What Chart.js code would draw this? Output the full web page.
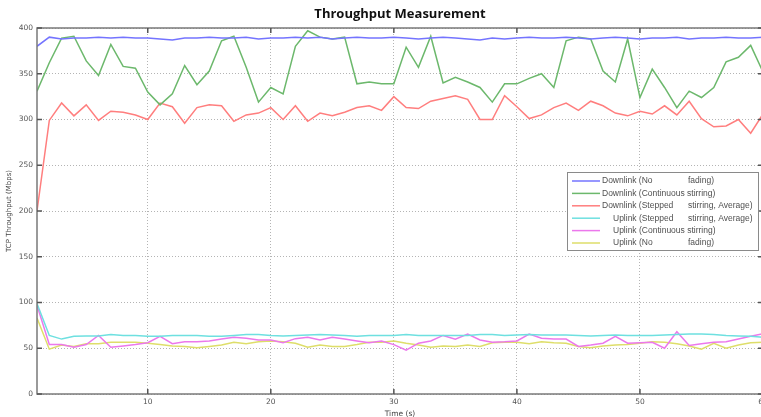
<!DOCTYPE html>
<html>
<head>
<meta charset="utf-8">
<script src="https://cdn.jsdelivr.net/npm/chart.js@4.4.1/dist/chart.umd.min.js"></script>
<style>
	html, body { margin: 0; padding: 0; background: #fff; overflow: hidden; }
	#wrap { width: 800px; height: 417px; }
</style>
</head>
<body>
<div id="wrap"><canvas id="myChart" width="800" height="417"></canvas></div>
<script>

// Data --------------------------------------------

const times = [1, 2, 3, 4, 5, 6, 7, 8, 9, 10, 11, 12, 13, 14, 15, 16, 17, 18, 19, 20,
	21, 22, 23, 24, 25, 26, 27, 28, 29, 30, 31, 32, 33, 34, 35, 36, 37, 38, 39, 40,
	41, 42, 43, 44, 45, 46, 47, 48, 49, 50, 51, 52, 53, 54, 55, 56, 57, 58, 59, 60];

const downNoFading = [380, 390, 388, 389, 389, 390, 389, 390, 389, 389, 388, 387, 389, 389, 390, 389, 389, 390, 388, 389,
	389, 390, 389, 390, 388, 389, 390, 389, 389, 390, 389, 388, 389, 390, 389, 388, 387, 389, 388, 389,
	390, 389, 389, 390, 389, 388, 389, 390, 389, 388, 389, 389, 390, 388, 389, 389, 390, 389, 389, 390];

const downContinuous = [331, 362, 389, 391, 364, 348, 382, 358, 356, 330, 316, 328, 359, 338, 353, 386, 391, 357, 319, 335,
	328, 380, 397, 390, 388, 390, 339, 341, 339, 339, 379, 357, 391, 340, 346, 341, 335, 319, 339, 339,
	345, 350, 335, 386, 390, 388, 353, 341, 388, 324, 355, 335, 313, 331, 324, 335, 363, 368, 381, 352];

const downStepped = [200, 299, 318, 304, 316, 299, 309, 308, 305, 300, 318, 314, 296, 313, 316, 315, 298, 305, 307, 313,
	300, 315, 298, 307, 304, 308, 313, 315, 310, 325, 313, 312, 320, 323, 326, 322, 300, 300, 326, 314,
	301, 305, 313, 318, 310, 320, 315, 307, 304, 309, 306, 315, 305, 320, 301, 292, 293, 300, 285, 306];

const upStepped = [99, 64, 60, 63, 63.5, 63.5, 65, 64, 64, 63, 63, 64, 64, 64, 63, 63, 64, 65, 65, 64,
	63.5, 64, 64.5, 65, 64.5, 64, 63, 64, 64, 64, 65, 64, 64, 64, 64, 64, 65, 65, 64, 64.5,
	65, 64.5, 64.5, 64.5, 64, 63.5, 64, 64.5, 64, 64, 64, 64.5, 65, 65.5, 65.5, 65, 64, 63.5, 63, 62];

const upContinuous = [97, 54, 54, 51, 54, 64, 51, 52.5, 54, 56, 63, 55, 57, 57, 58, 60, 62, 61, 59, 59,
	56, 60.5, 62, 59, 62, 60, 58, 56, 58, 54, 48, 55.5, 58, 64, 60, 65.5, 59, 56.5, 57, 58,
	65.5, 61, 60, 60, 52, 53.5, 55.5, 63, 55.5, 56, 56.5, 50, 68, 53, 55, 56.5, 57, 60, 63, 66];

const upNoFading = [83, 49, 53.5, 52, 55, 55, 56.5, 56.5, 56.5, 55.5, 54, 52.5, 52, 50.5, 52, 53.5, 56.5, 55, 57, 58,
	57, 55.5, 51, 53.5, 52, 52, 54, 56.5, 56.5, 58, 55.5, 53.5, 51, 52.5, 52, 53.5, 52, 56, 56.5, 56.5,
	55, 57, 56, 55.5, 52, 50.5, 52.5, 53.5, 54, 55.5, 57, 56.5, 55, 52.5, 49, 55.5, 50, 53.5, 56, 56.5];

const seriesLabels = [
	'Downlink (No            fading)',
	'Downlink (Continuous stirring)',
	'Downlink (Stepped          stirring, Average)',
	'Uplink (Stepped          stirring, Average)',
	'Uplink (Continuous stirring)',
	'Uplink (No            fading)'
];
const seriesValues = [downNoFading, downContinuous, downStepped, upStepped, upContinuous, upNoFading];
const seriesColors = ['#7474ff', '#6cb86c', '#ff7e7e', '#6ee0e0', '#ec78ec', '#dede6a'];

const yTicks = [0, 50, 100, 150, 200, 250, 300, 350, 400];
const xTicks = [10, 20, 30, 40, 50, 60];

// Plugins --------------------------------------------

// box round the plot, with short inward tick marks
const frame = {
	id: 'frame',
	afterDraw(chart) {
		const ctx = chart.ctx;
		const a = chart.chartArea;
		const xs = chart.scales.x;
		const ys = chart.scales.y;
		ctx.save();
		ctx.strokeStyle = '#7a7a7a';
		ctx.lineWidth = 1.5;
		ctx.strokeRect(a.left, a.top, a.right - a.left, a.bottom - a.top);
		ctx.strokeStyle = '#555';
		ctx.beginPath();
		xTicks.forEach(v => {
			const p = xs.getPixelForValue(v);
			ctx.moveTo(p, a.bottom); ctx.lineTo(p, a.bottom - 5);
			ctx.moveTo(p, a.top); ctx.lineTo(p, a.top + 5);
		});
		yTicks.forEach(v => {
			const p = ys.getPixelForValue(v);
			ctx.moveTo(a.left, p); ctx.lineTo(a.left + 5, p);
			ctx.moveTo(a.right, p); ctx.lineTo(a.right - 5, p);
		});
		ctx.stroke();
		ctx.restore();
	}
};

// legend box inside the plot
const legendBox = {
	id: 'legendBox',
	afterDraw(chart) {
		const ctx = chart.ctx;
		ctx.save();
		ctx.fillStyle = '#fff';
		ctx.fillRect(567, 172, 191, 78);
		ctx.strokeStyle = '#8a8a8a';
		ctx.lineWidth = 1;
		ctx.strokeRect(567.5, 172.5, 191, 78);
		ctx.font = '8.5px "Liberation Sans"';
		ctx.textBaseline = 'middle';
		chart.data.datasets.forEach((ds, i) => {
			const y = 181 + i * 12.4;
			ctx.strokeStyle = ds.borderColor;
			ctx.lineWidth = 1.5;
			ctx.beginPath();
			ctx.moveTo(572, y);
			ctx.lineTo(600, y);
			ctx.stroke();
			const parts = ds.label.split(/ {2,}/);
			const x0 = ds.label.startsWith('Up') ? 613 : 602;
			ctx.fillStyle = '#505050';
			ctx.fillText(parts[0], x0, y);
			if (parts[1]) ctx.fillText(parts[1], 688, y);
		});
		ctx.restore();
	}
};

// Line chart --------------------------------------------

let ctx = document.getElementById('myChart').getContext('2d');
let chart = new Chart(ctx, {
	type: 'line',
	data: {
		datasets: seriesLabels.map((label, i) => ({
			label: label,
			data: times.map((t, j) => ({ x: t, y: seriesValues[i][j] })),
			borderColor: seriesColors[i],
			backgroundColor: seriesColors[i],
			borderWidth: 1.5,
			pointRadius: 0,
			tension: 0,
			fill: false
		}))
	},
	options: {
		responsive: false,
		animation: false,
		layout: {
			padding: 0
		},
		plugins: {
			legend: { display: false },
			tooltip: { enabled: false },
			title: {
				display: true,
				text: 'Throughput Measurement',
				color: '#111',
				font: { family: '"Open Sans"', size: 13, weight: 'bold' },
				padding: { top: 6, bottom: 6.4 }
			}
		},
		scales: {
			x: {
				type: 'linear',
				min: 1,
				max: 60,
				afterBuildTicks: s => { s.ticks = xTicks.map(v => ({ value: v })); },
				afterFit: s => { s.height = 23; },
				grid: {
					color: '#b4b4b4',
					lineWidth: 1,
					drawTicks: false
				},
				border: { display: false, dash: [1, 2] },
				ticks: {
					color: '#555',
					font: { family: '"DejaVu Sans"', size: 7.5 },
					padding: 4,
					maxRotation: 0
				},
				title: {
					display: true,
					text: 'Time (s)',
					color: '#444',
					font: { family: '"DejaVu Sans"', size: 7.5 },
					padding: { top: 0, bottom: -2 }
				}
			},
			y: {
				min: 0,
				max: 400,
				afterBuildTicks: s => { s.ticks = yTicks.map(v => ({ value: v })); },
				afterFit: s => { s.width = 37; },
				grid: {
					color: '#b4b4b4',
					lineWidth: 1,
					drawTicks: false
				},
				border: { display: false, dash: [1, 2] },
				ticks: {
					color: '#555',
					font: { family: '"DejaVu Sans"', size: 7.5 },
					padding: 4
				},
				title: {
					display: true,
					text: 'TCP Throughput (Mbps)',
					color: '#444',
					font: { family: '"DejaVu Sans"', size: 7 },
					padding: { top: 5, bottom: 0 }
				}
			},
			// empty right axis, only to keep room on the right of the plot
			yRight: {
				position: 'right',
				min: 0,
				max: 400,
				afterFit: s => { s.width = 37; },
				grid: { display: false },
				border: { display: false },
				ticks: { display: false }
			}
		}
	},
	plugins: [frame, legendBox]
});

</script>
</body>
</html>
